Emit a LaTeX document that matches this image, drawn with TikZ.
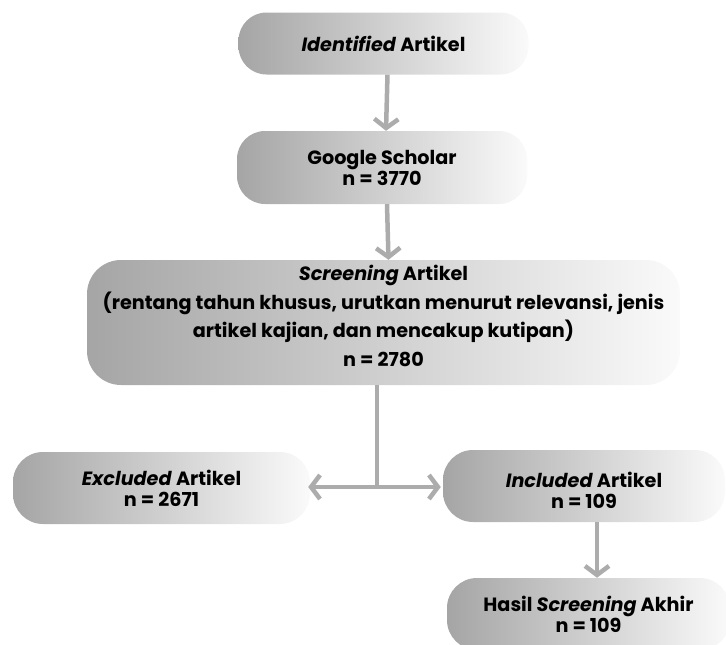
\documentclass[tikz,border=0pt]{standalone}
\usepackage{fontspec}
\setmainfont{Poppins}
\usetikzlibrary{arrows.meta}
\definecolor{boxL}{RGB}{165,165,165}
\definecolor{boxR}{RGB}{250,250,250}
\definecolor{arr}{RGB}{172,172,172}
\begin{document}
\begin{tikzpicture}[x=1pt,y=1pt,
  flowbox/.style={rectangle, rounded corners=28pt, left color=boxL, right color=boxR,
    draw=none, align=center, inner sep=0pt,
    font=\fontsize{19.2}{21}\selectfont\bfseries},
  boxlabel/.style={align=center, inner sep=0pt, font=\fontsize{19.2}{21}\selectfont\bfseries},
  conn/.style={draw=arr, line width=4.5pt, -{Straight Barb[length=9pt,width=24pt]}},
  plainconn/.style={draw=arr, line width=4.5pt}]
\useasboundingbox (0,0) rectangle (726,-645);
\node[flowbox, minimum width=290pt, minimum height=62pt] (idn) at (383.5,-43.5) {\textit{Identified} Artikel};
\node[flowbox, minimum width=290pt, minimum height=73pt] (gs) at (382,-167.5) {Google Scholar\\n = 3770};
\node[flowbox, minimum width=593pt, minimum height=125pt, rounded corners=34pt,
  label={[boxlabel, font=\fontsize{19.2}{28.7}\selectfont\bfseries, yshift=6.5pt]center:{\textit{Screening} Artikel\\(rentang tahun khusus, urutkan menurut relevansi, jenis\\artikel kajian, dan mencakup kutipan)\\n = 2780}}] (scr) at (383.5,-322.5) {};
\node[flowbox, minimum width=297pt, minimum height=72pt, rounded corners=30pt] (exc) at (161.5,-488) {\textit{Excluded} Artikel\\n = 2671};
\node[flowbox, minimum width=282pt, minimum height=72pt, rounded corners=30pt,
  label={[boxlabel, yshift=-4.5pt]center:{\textit{Included} Artikel\\n = 109}}] (inc) at (584,-486) {};
\node[flowbox, minimum width=283pt, minimum height=72pt, rounded corners=30pt] (has) at (588.5,-614) {Hasil \textit{Screening} Akhir\\n = 109};
\coordinate (j) at (377,-487);
\draw[conn] ([xshift=4pt]idn.south) -- ([xshift=4pt]gs.north);
\draw[conn] ([xshift=5pt]gs.south) -- ([xshift=5pt]scr.north);
\draw[plainconn] ([xshift=-6.5pt]scr.south) -- (j);
\draw[conn] ([xshift=2pt]j) -- ([xshift=-2pt]exc.east |- j);
\draw[conn] ([xshift=-2pt]j) -- ([xshift=-2pt]inc.west |- j);
\draw[conn] ([xshift=13pt]inc.south) -- ([xshift=8.5pt]has.north);
\end{tikzpicture}
\end{document}
